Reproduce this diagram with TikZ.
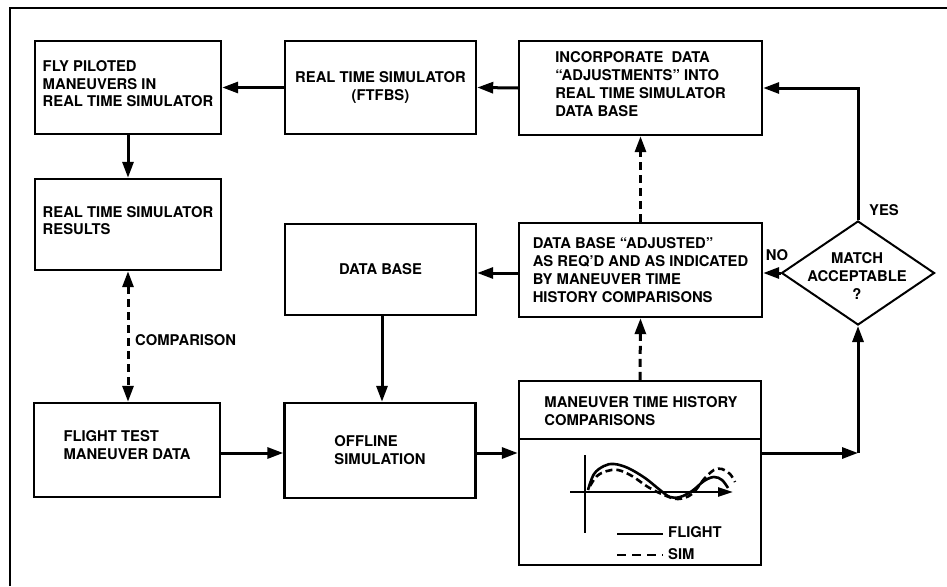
\documentclass[tikz,border=0pt]{standalone}
\usepackage{fontspec}
\setmainfont{TeX Gyre Heros}
\usetikzlibrary{arrows.meta,shapes.geometric}
\begin{document}
\begin{tikzpicture}[x=1pt,y=-1pt,
  every node/.style={font=\fontsize{14.8}{17.8}\selectfont\bfseries},
  box/.style={draw,line width=2.4pt,inner sep=0pt,align=left},
  flow/.style={line width=3pt,-{Triangle[length=16pt,width=11pt]}},
  dflow/.style={flow,dash pattern=on 8pt off 5pt},
  lbl/.style={inner sep=0pt}]
\useasboundingbox (0,0) rectangle (947,586);
\draw[line width=2.6pt] (10,586) -- (10,8) -- (947,8);

\node[box,minimum width=186pt,minimum height=93pt] (A) at (128,87.5)
  {FLY PILOTED\\MANEUVERS IN\\REAL TIME SIMULATOR\\[-10pt]\mbox{}};
\node[box,align=center,minimum width=191pt,minimum height=93pt] (B) at (380.5,87.5)
  {REAL TIME SIMULATOR\\(FTFBS)};
\node[box,minimum width=243pt,minimum height=94pt] (C) at (640.5,88)
  {INCORPORATE \ DATA\\``ADJUSTMENTS'' INTO\\REAL TIME SIMULATOR\\DATA BASE\\[-10pt]\mbox{}};
\node[box,minimum width=186pt,minimum height=91pt] (D) at (128,224.5)
  {REAL TIME SIMULATOR\\RESULTS\\[-10pt]\mbox{}};
\node[box,minimum width=191pt,minimum height=91pt] (E) at (380.5,269.5)
  {DATA BASE};
\node[box,minimum width=243pt,minimum height=94pt] (F) at (640.5,270)
  {DATA BASE ``ADJUSTED''\\AS REQ'D AND AS INDICATED\\BY MANEUVER TIME\\HISTORY COMPARISONS};
\node[box,minimum width=186pt,minimum height=94pt] (G) at (127,450)
  {FLIGHT TEST\\MANEUVER DATA\\[-8pt]\mbox{}};
\node[box,minimum width=191pt,minimum height=95pt] (H) at (380,450.5)
  {OFFLINE\\SIMULATION};
\node[box,minimum width=242pt,minimum height=184pt] (I) at (640,473) {};
\draw[line width=2pt] (519,439) -- (761,439);
\node[lbl,align=left] (It) at (641,411) {MANEUVER TIME HISTORY\\COMPARISONS};
\node[draw,diamond,line width=2pt,inner sep=0pt,aspect=1.47,
  minimum width=153pt,minimum height=104pt] (Dm) at (858,273) {};
\node[lbl,align=center] (Dt) at (857,276) {MATCH\\ACCEPTABLE\\?};

% graph in box I
\draw[line width=2.4pt] (585,455) -- (585,533);
\draw[line width=2.4pt,-{Triangle[length=15pt,width=9pt]}] (570,492) coordinate (ax0) -- (733,492) coordinate (ax1);
\draw[line width=2.6pt] plot[smooth,tension=0.6] coordinates {(588,490) (594,474) (604,466) (614,464) (628,468) (645,478) (660,490) (670,497) (680,497) (692,491) (704,481) (714,477) (722,480) (728,488)};
\draw[line width=2.6pt,dash pattern=on 7pt off 4pt] plot[smooth,tension=0.6] coordinates {(590,486) (597,476) (607,471) (618,470) (632,476) (648,487) (664,495) (678,499) (692,494) (704,479) (714,470) (722,469) (730,474) (735,482)};
\coordinate (l1a) at (617,534);
\coordinate (l1b) at (663,534);
\coordinate (l2a) at (617,555);
\coordinate (l2b) at (663,555);
\draw[line width=2.6pt] (l1a) -- (l1b);
\draw[line width=2.6pt,dash pattern=on 9pt off 6pt] (l2a) -- (l2b);
\node[lbl,anchor=west] (fl) at (668,532) {FLIGHT};
\node[lbl,anchor=west] (sm) at (668,554) {SIM};

% connectors
\draw[flow] (B.west) -- (A.east);
\draw[flow] (C.west) -- (B.east);
\draw[flow] (Dm.north) |- (C.east);
\draw[flow] (Dm.west) -- (Dm.west -| F.east);
\draw[flow] (F.west |- 0,273) -- (E.east |- 0,273);
\draw[flow] (A.south) -- (D.north);
\draw[dflow,{Triangle[length=16pt,width=11pt]}-{Triangle[length=16pt,width=11pt]}] (D.south) -- (D.south |- G.north);
\draw[flow] (E.south -| 382,0) -- (H.north -| 382,0);
\draw[flow] (G.east |- 0,453) -- (H.west |- 0,453);
\draw[flow] (H.east |- 0,453) -- (I.west |- 0,453);
\coordinate (k) at (Dm.south |- 0,453);
\draw[flow] (I.east |- 0,453) -- (k);
\draw[flow] (k) -- (Dm.south);
\draw[dflow] (I.north) -- (F.south);
\draw[dflow] (F.north) -- (C.south);

\node[lbl,anchor=west] (cmp) at (135,340) {COMPARISON};
\node[lbl] (yes) at (884,210) {YES};
\node[lbl] (no) at (777,255) {NO};
\end{tikzpicture}
\end{document}
